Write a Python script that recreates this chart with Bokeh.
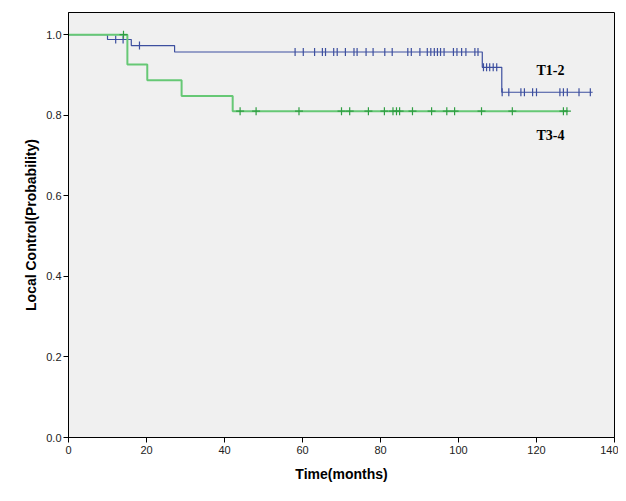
import numpy as np
from bokeh.plotting import figure
from bokeh.models import Range1d, FixedTicker, ColumnDataSource, CustomJSTickFormatter
from bokeh.core.properties import value
from bokeh.embed import file_html
from bokeh.resources import INLINE

# ---- data ----
t12_event_times = [0, 10.0, 16.1, 27.2, 106.1, 111.1]
t12_survival = [1.0, 0.988, 0.973, 0.957, 0.919, 0.857]
t12_end = 134.4
t12_censored = [12.1, 14.0, 18.2,
                58.1, 60.2, 63.1, 65.1, 65.9, 68.0, 68.9, 71.0, 73.2, 74.0, 76.3, 78.1,
                81.1, 83.0, 87.0, 87.9, 90.1, 92.0, 92.9, 93.8, 94.6, 95.4, 96.3,
                98.7, 99.6, 100.8, 101.9, 104.2, 105.0,
                106.4, 107.2, 108.0, 108.9, 109.8,
                111.2, 112.9, 116.0, 116.9, 119.0, 120.0, 126.0, 126.9, 127.9, 130.9, 133.8]

t34_event_times = [0, 15.1, 20.2, 29.0, 42.1]
t34_survival = [1.0, 0.926, 0.887, 0.848, 0.810]
t34_end = 128.0
t34_censored = [14.1, 44.0, 48.1, 59.1, 70.0, 72.1, 76.9, 81.0, 83.2, 84.1, 84.9,
                88.2, 93.1, 97.0, 99.0, 105.9, 113.8, 126.9, 127.8]

group_labels = ["T1-2", "T3-4"]
label_x = [120.0, 120.0]
label_y = [0.911, 0.749]

x_ticks = [0, 20, 40, 60, 80, 100, 120, 140]
y_ticks = [0.0, 0.2, 0.4, 0.6, 0.8, 1.0]


def step_value(times, surv, t):
    idx = np.searchsorted(np.array(times), t, side="right") - 1
    return [surv[i] for i in idx]


BLUE = "#3d4f9f"
GREEN_LINE = "#66c875"
GREEN_MARK = "#2f9e42"

p = figure(width=618, height=493, output_backend="svg", toolbar_location=None,
           x_range=Range1d(0, 140), y_range=Range1d(0, 1.055),
           min_border_left=68, min_border_right=4, min_border_top=12, min_border_bottom=56)

p.background_fill_color = "#f0f0f0"
p.border_fill_color = "white"
p.outline_line_color = "black"
p.outline_line_width = 1
p.xgrid.visible = False
p.ygrid.visible = False

# blue curve
bx = t12_event_times + [t12_end]
by = t12_survival + [t12_survival[-1]]
p.step(bx, by, mode="after", line_color=BLUE, line_width=1.2)
p.scatter(t12_censored, step_value(t12_event_times, t12_survival, t12_censored),
          marker="dash", angle=np.pi / 2, size=8, line_color=BLUE, line_width=1.2)

# green curve
gx = t34_event_times + [t34_end]
gy = t34_survival + [t34_survival[-1]]
p.step(gx, gy, mode="after", line_color=GREEN_LINE, line_width=2)
p.scatter(t34_censored, step_value(t34_event_times, t34_survival, t34_censored),
          marker="cross", size=8, line_color=GREEN_MARK, line_width=1.2)

src = ColumnDataSource(dict(x=label_x, y=label_y, t=group_labels))
p.text(x="x", y="y", text="t", source=src, text_font=value("Liberation Serif"),
       text_font_style="bold", text_font_size="14px", text_baseline="middle",
       text_align="left", text_color="black")

# axes
p.xaxis.ticker = FixedTicker(ticks=x_ticks)
p.yaxis.ticker = FixedTicker(ticks=y_ticks)
p.yaxis.formatter = CustomJSTickFormatter(code="return tick.toFixed(1);")
for ax in (p.xaxis[0], p.yaxis[0]):
    ax.axis_line_color = "black"
    ax.major_tick_line_color = "black"
    ax.major_tick_out = 5
    ax.major_tick_in = 0
    ax.minor_tick_line_color = None
    ax.major_label_text_font = "Liberation Sans"
    ax.major_label_text_font_size = "11px"
    ax.major_label_text_color = "#222222"
    ax.axis_label_text_font = "Liberation Sans"
    ax.axis_label_text_font_style = "bold"
    ax.axis_label_text_font_size = "14px"
    ax.axis_label_text_color = "black"
p.xaxis.axis_label = "Time(months)"
p.yaxis.axis_label = "Local Control(Probability)"
p.xaxis.major_label_standoff = 3
p.yaxis.major_label_standoff = 2
p.xaxis.axis_label_standoff = 9
p.yaxis.axis_label_standoff = 4

open("out.html", "w").write(file_html(p, INLINE))
